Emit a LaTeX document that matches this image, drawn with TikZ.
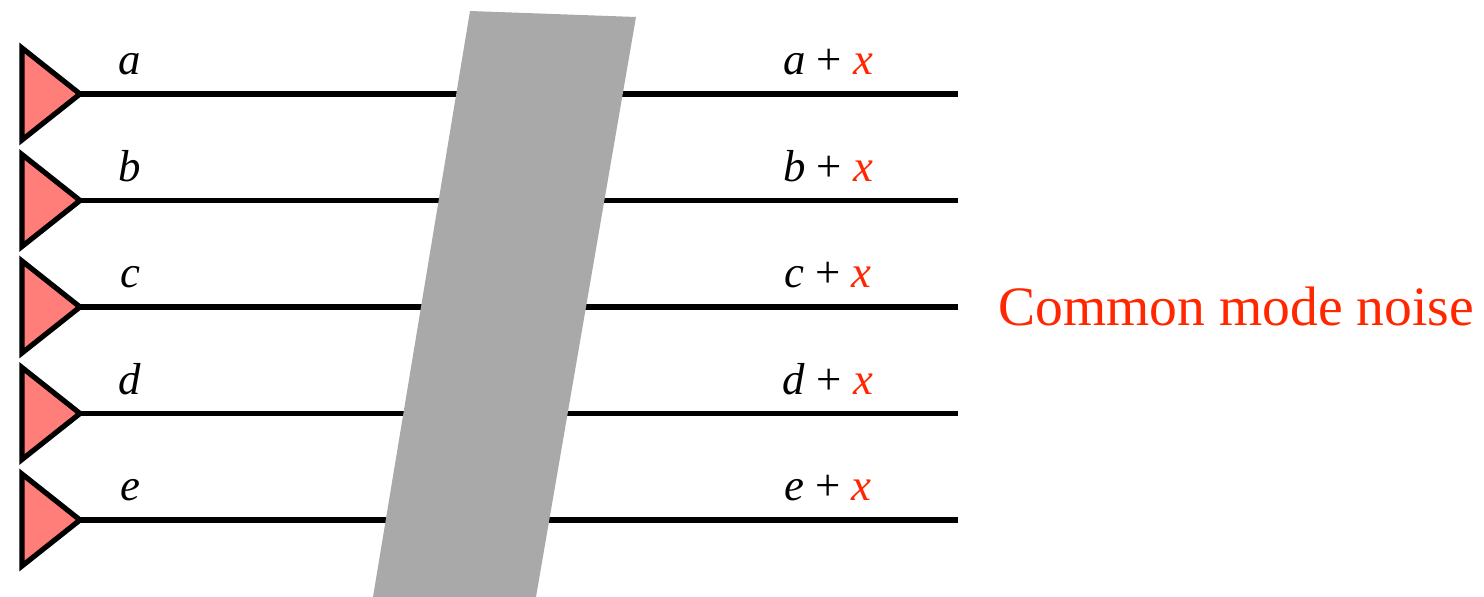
\documentclass[tikz,border=0pt]{standalone}
\usepackage{fontspec}
\setmainfont{Liberation Serif}
\usepackage{xcolor}
\usepackage{tikz}
\usetikzlibrary{calc}
\definecolor{noisec}{RGB}{255,38,0}
\definecolor{drvc}{RGB}{255,126,121}
\definecolor{bandc}{RGB}{169,169,169}
\newcommand{\lblfont}{\fontsize{22.4}{26}\selectfont}

\begin{document}
\begin{tikzpicture}[x=0.5pt,y=-0.5pt,
    wire/.style={line width=2.6pt},
    drv/.style={line width=2.6pt,fill=drvc,line join=miter},
    lbl/.style={anchor=base,inner sep=0pt,font=\lblfont}]
  \useasboundingbox (0,0) rectangle (1484,597);
  \foreach \i/\l in {0/a,1/b,2/c,3/d,4/e} {
    \pgfmathsetmacro{\yy}{94+106.5*\i}
    \coordinate (tip\l) at (80,\yy);
    \coordinate (end\l) at (958,\yy);
    \draw[wire] (tip\l) -- (end\l);
    \draw[drv] (tip\l) -- ($(tip\l)+(-58,-46)$) -- ($(tip\l)+(-58,46)$) -- cycle;
    \node[lbl] (in\l) at ($(tip\l)+(50,-19)$) {\textit{\l}};
    \node[lbl] (out\l) at ($(tip\l)+(748,-19)$) {\textit{\l} + \textcolor{noisec}{\textit{x}}};
  }
  % the noise band over all wires
  \fill[bandc] (470,11) -- (636,17) -- (536,597) -- (373,597) -- cycle;
  \node[anchor=base west,inner sep=0pt,text=noisec,font=\fontsize{27.8}{32}\selectfont] (noise) at (998,326) {Common mode noise};
\end{tikzpicture}
\end{document}
